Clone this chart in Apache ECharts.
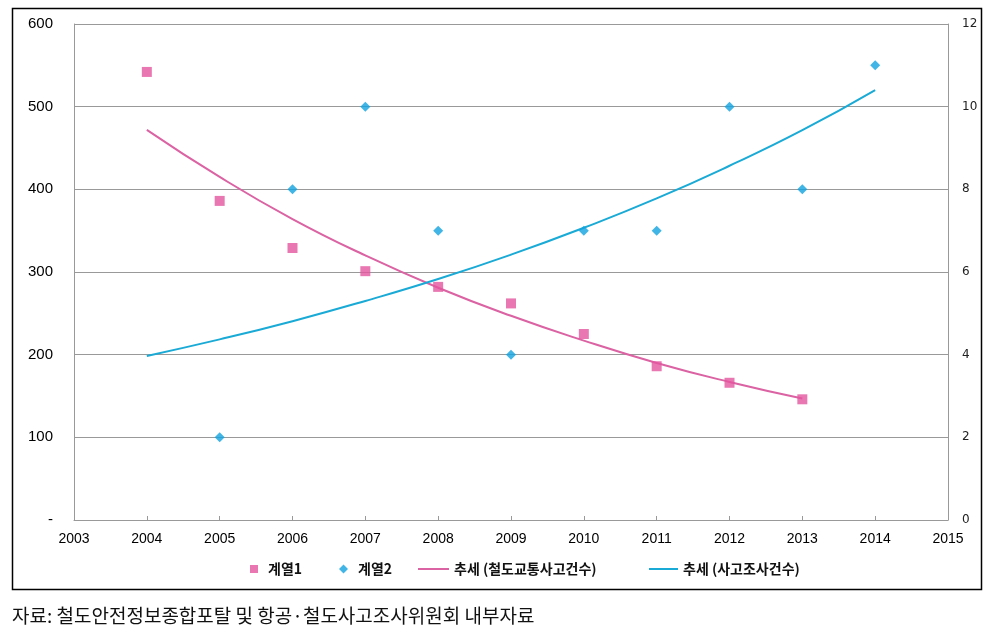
<!DOCTYPE html>
<html><head><meta charset="utf-8">
<script src="https://cdn.jsdelivr.net/npm/echarts@6/dist/echarts.min.js"></script>
<style>html,body{margin:0;padding:0;background:#fff}#c{width:990px;height:637px}</style>
</head><body><div id="c"></div>
<script>
const years1 = [2004,2005,2006,2007,2008,2009,2010,2011,2012,2013];
const series1 = [542,386,329,301,282,262,225,186,166,146];
const years2 = [2005,2006,2007,2008,2009,2010,2011,2012,2013,2014];
const series2 = [2,8,10,7,4,7,7,10,8,11];
const trend1Years = [2004,2005,2006,2007,2008,2009,2010,2011,2012,2013];
const trend1 = [472,415,364,320,281,247,217,190,167,147];
const trend2Years = [2004,2005,2006,2007,2008,2009,2010,2011,2012,2013,2014];
const trend2 = [3.97,4.37,4.81,5.30,5.83,6.42,7.07,7.78,8.57,9.43,10.4];
const names = ['계열1','계열2','추세 (철도교통사고건수)','추세 (사고조사건수)'];
const sourceText = '자료: 철도안전정보종합포탈 및 항공·철도사고조사위원회 내부자료';

const pink = '#E4559F', pinkLine = '#DB62A3', blue = '#12A3E0', blueLine = '#1AAAD6';
const zip = (xs, ys) => xs.map((x, i) => [x, ys[i]]);
const chart = echarts.init(document.getElementById('c'));
const lblFont = {fontFamily: 'Liberation Sans, Arial, sans-serif', fontSize: 14, color: '#000'};
const legText = {fontFamily: 'Noto Sans CJK KR', fontSize: 14, color: '#111', fontWeight: 'bold'};
chart.setOption({
  animation: false,
  grid: {left: 74, right: 42, top: 24, bottom: 117},
  xAxis: {
    type: 'value', min: 2003, max: 2015, interval: 1,
    axisLine: {show: true, lineStyle: {color: '#999', width: 1}},
    axisTick: {show: true, inside: true, length: 4, lineStyle: {color: '#999'}},
    splitLine: {show: false},
    axisLabel: Object.assign({formatter: v => String(v), margin: 12}, lblFont)
  },
  yAxis: [{
    type: 'value', min: 0, max: 600, interval: 100,
    axisLine: {show: true, lineStyle: {color: '#999'}},
    axisTick: {show: false},
    splitLine: {show: true, lineStyle: {color: '#999', width: 1}},
    axisLabel: Object.assign({formatter: v => v === 0 ? '-' : String(v), margin: 21}, lblFont, {fontSize: 15})
  }, {
    type: 'value', min: 0, max: 12, interval: 2,
    axisLine: {show: true, lineStyle: {color: '#999'}},
    axisTick: {show: false},
    splitLine: {show: false},
    axisLabel: {fontFamily: 'DejaVu Sans, sans-serif', fontSize: 12, color: '#222', margin: 14}
  }],
  legend: [{
    bottom: 56, left: 245, itemWidth: 8, itemHeight: 8,
    textStyle: Object.assign({padding: [0, 0, 0, 5]}, legText),
    data: [{name: names[0], icon: 'rect'}]
  }, {
    bottom: 56, left: 334, itemWidth: 9, itemHeight: 9,
    textStyle: Object.assign({padding: [0, 0, 0, 5]}, legText),
    data: [{name: names[1], icon: 'diamond'}]
  }, {
    bottom: 56, left: 413, itemWidth: 31, itemHeight: 2,
    textStyle: legText,
    data: [{name: names[2], icon: 'rect'}]
  }, {
    bottom: 56, left: 644, itemWidth: 29, itemHeight: 2,
    textStyle: legText,
    data: [{name: names[3], icon: 'rect'}]
  }],
  graphic: [
    {type: 'rect', shape: {x: 12.5, y: 8.5, width: 969, height: 581}, style: {fill: 'none', stroke: '#000', lineWidth: 1.5}, silent: true},
    {type: 'text', left: 12, top: 606, style: {text: sourceText, font: '19px "Noto Sans CJK KR"', fill: '#111'}}
  ],
  series: [
    {name: names[0], type: 'scatter', yAxisIndex: 0, symbol: 'rect', symbolSize: 10,
     itemStyle: {color: pink}, data: zip(years1, series1), z: 5},
    {name: names[1], type: 'scatter', yAxisIndex: 1, symbol: 'diamond', symbolSize: 10,
     itemStyle: {color: blue}, data: zip(years2, series2), z: 5},
    {name: names[2], type: 'line', yAxisIndex: 0, smooth: true, showSymbol: false,
     lineStyle: {color: pinkLine, width: 2}, itemStyle: {color: pinkLine}, data: zip(trend1Years, trend1)},
    {name: names[3], type: 'line', yAxisIndex: 1, smooth: true, showSymbol: false,
     lineStyle: {color: blueLine, width: 2}, itemStyle: {color: blueLine}, data: zip(trend2Years, trend2)}
  ]
});
</script></body></html>
